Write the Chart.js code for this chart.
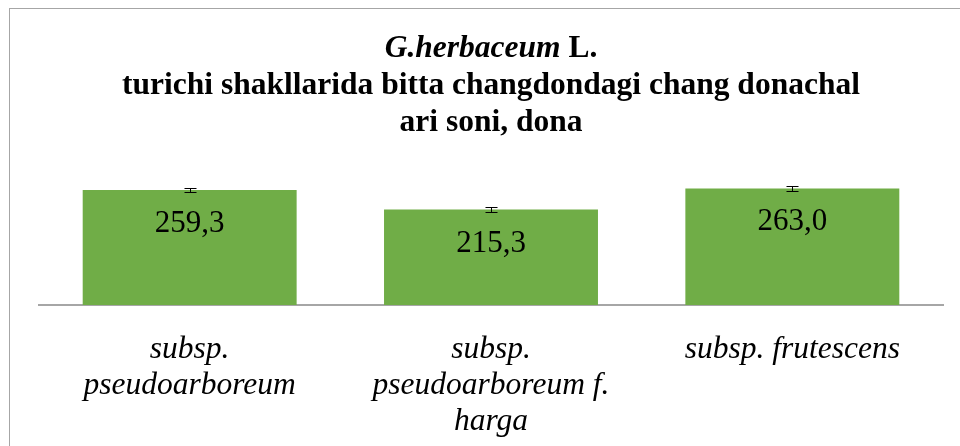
<!DOCTYPE html>
<html>
<head>
<meta charset="utf-8">
<script src="https://cdn.jsdelivr.net/npm/chart.js@4.4.1/dist/chart.umd.min.js"></script>
<style>
  body { margin: 0; background: #fff; }
  #wrap { width: 960px; height: 446px; position: relative; }
</style>
</head>
<body>
<div id="wrap"><canvas id="typeChart"></canvas></div>
<script>
// chart data
const categories = [
  ['subsp.', 'pseudoarboreum'],
  ['subsp.', 'pseudoarboreum f.', 'harga'],
  ['subsp. frutescens']
];
const values = [259.3, 215.3, 263.0];
const errors = [4.5, 6.0, 5.5];
const valueLabels = ['259,3', '215,3', '263,0'];

const titleItalic = 'G.herbaceum';
const titleRest = ' L.';
const titleLines = ['turichi shakllarida bitta changdondagi chang donachal', 'ari soni, dona'];

const serif = "'Liberation Serif', 'Times New Roman', serif";

// frame around the chart + title
const framePlugin = {
  id: 'frame',
  beforeDraw(chart) {
    const ctx = chart.ctx;
    ctx.save();
    ctx.fillStyle = '#fff';
    ctx.fillRect(0, 0, chart.width, chart.height);
    ctx.strokeStyle = '#a6a6a6';
    ctx.lineWidth = 1;
    ctx.strokeRect(9.5, 8.5, 2000, 2000);
    ctx.restore();
  },
  afterDraw(chart) {
    const ctx = chart.ctx;
    const cx = (chart.chartArea.left + chart.chartArea.right) / 2;
    ctx.save();
    ctx.fillStyle = '#000';
    ctx.textBaseline = 'alphabetic';

    // first line: italic part + normal part, centered together
    const fItal = 'italic bold 31.5px ' + serif;
    const fBold = 'bold 31.5px ' + serif;
    ctx.font = fItal;
    const w1 = ctx.measureText(titleItalic).width;
    ctx.font = fBold;
    const w2 = ctx.measureText(titleRest).width;
    let x = cx - (w1 + w2) / 2;
    ctx.textAlign = 'left';
    ctx.font = fItal;
    ctx.fillText(titleItalic, x, 57);
    ctx.font = fBold;
    ctx.fillText(titleRest, x + w1, 57);

    ctx.textAlign = 'center';
    titleLines.forEach((line, i) => {
      ctx.fillText(line, cx, 94 + i * 37);
    });
    ctx.restore();
  }
};

// error bars and value labels on the bars
const barExtras = {
  id: 'barExtras',
  afterDatasetsDraw(chart) {
    const ctx = chart.ctx;
    const yScale = chart.scales.y;
    const meta = chart.getDatasetMeta(0);
    ctx.save();
    meta.data.forEach((bar, i) => {
      // value label
      ctx.font = '31px ' + serif;
      ctx.fillStyle = '#000';
      ctx.textAlign = 'center';
      ctx.textBaseline = 'alphabetic';
      ctx.fillText(valueLabels[i], bar.x, bar.y + 42);

      // error bar
      const yHi = Math.round(yScale.getPixelForValue(values[i] + errors[i])) + 0.5;
      const yLo = Math.round(yScale.getPixelForValue(values[i] - errors[i])) + 0.5;
      const bx = Math.round(bar.x) + 0.5;
      ctx.strokeStyle = '#000';
      ctx.lineWidth = 1;
      ctx.beginPath();
      ctx.moveTo(bx, yHi); ctx.lineTo(bx, yLo);
      ctx.moveTo(bx - 6, yHi); ctx.lineTo(bx + 6, yHi);
      ctx.moveTo(bx - 6, yLo); ctx.lineTo(bx + 6, yLo);
      ctx.stroke();
    });
    ctx.restore();
  }
};

const ctx = document.getElementById('typeChart').getContext('2d');
new Chart(ctx, {
  type: 'bar',
  data: {
    labels: categories,
    datasets: [{
      data: values,
      backgroundColor: '#70ad47',
      borderWidth: 0,
      categoryPercentage: 1,
      barPercentage: 0.71
    }]
  },
  options: {
    responsive: true,
    maintainAspectRatio: false,
    animation: false,
    layout: {
      padding: { top: 172, left: 39, right: 17, bottom: 0 }
    },
    plugins: {
      legend: { display: false },
      tooltip: { enabled: false },
      title: { display: false }
    },
    scales: {
      x: {
        grid: { display: false },
        border: { display: true, color: '#a6a6a6', width: 2 },
        ticks: {
          color: '#000',
          padding: 19,
          maxRotation: 0,
          autoSkip: false,
          font: { family: serif, size: 31.5, style: 'italic', lineHeight: 1.143 }
        },
        afterFit: function (scale) { scale.height = 141; }
      },
      y: {
        display: false,
        min: 0,
        max: 300
      }
    }
  },
  plugins: [framePlugin, barExtras]
});
</script>
</body>
</html>
